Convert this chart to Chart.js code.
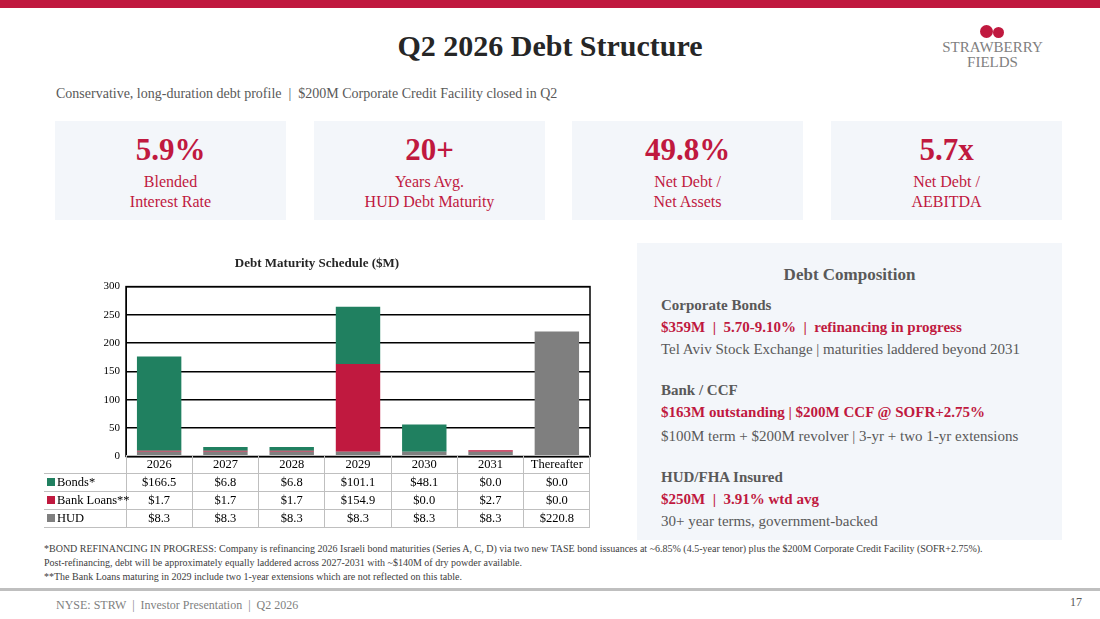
<!DOCTYPE html>
<html><head><meta charset="utf-8">
<script src="https://cdn.jsdelivr.net/npm/chart.js@4"></script>
<style>
body{margin:0;width:1100px;height:619px;position:relative;background:#fff;font-family:"Liberation Serif",serif;overflow:hidden}
.abs{position:absolute}
.kpi{position:absolute;top:121px;width:231px;height:99px;background:#f3f6fa;text-align:center}
.kpi .v{color:#c0193f;font-size:31px;font-weight:bold;margin-top:11px}
.kpi .l{color:#c0193f;font-size:16px;line-height:20px;margin-top:4px}
table{border-collapse:collapse;font-size:12.5px;color:#000;table-layout:fixed}
td{border:1px solid #bfbfbf;text-align:center;padding:0;height:17px;white-space:nowrap}
td.lab{text-align:left;padding-left:3px;border-left:none}
.sq{display:inline-block;width:8px;height:8px;margin-right:2px}
.dc{position:absolute;left:637px;top:243px;width:425px;height:297px;background:#f3f6fa}
.dc div{position:absolute;left:24px;white-space:nowrap}
.h{font-weight:bold;color:#595959;font-size:15px}
.r{font-weight:bold;color:#c0193f;font-size:15px}
.g{color:#595959;font-size:15px}
</style></head><body>
<div class="abs" style="left:0;top:0;width:1100px;height:8px;background:#c0193f"></div>
<div class="abs" style="left:0;width:1100px;top:29px;text-align:center;font-size:30px;font-weight:bold;color:#262626">Q2 2026 Debt Structure</div>
<div class="abs" style="left:980px;top:25px;width:13px;height:13px;border-radius:50%;background:#c0193f"></div>
<div class="abs" style="left:993px;top:27px;width:11px;height:11px;border-radius:50%;background:#c0193f"></div>
<div class="abs" style="left:930px;top:40px;color:#7f7f7f;font-size:15px;line-height:15px;text-align:center;width:125px">STRAWBERRY<br>FIELDS</div>
<div class="abs" style="left:56px;top:86px;font-size:14px;color:#595959">Conservative, long-duration debt profile &nbsp;| &nbsp;$200M Corporate Credit Facility closed in Q2</div>
<div class="kpi" style="left:55px"><div class="v">5.9%</div><div class="l">Blended<br>Interest Rate</div></div>
<div class="kpi" style="left:314px"><div class="v">20+</div><div class="l">Years Avg.<br>HUD Debt Maturity</div></div>
<div class="kpi" style="left:572px"><div class="v">49.8%</div><div class="l">Net Debt /<br>Net Assets</div></div>
<div class="kpi" style="left:831px"><div class="v">5.7x</div><div class="l">Net Debt /<br>AEBITDA</div></div>
<div class="abs" style="left:44px;top:253px;width:552px;height:216px"><canvas id="c"></canvas></div>
<div class="abs" style="left:44px;top:455px" id="tbl"></div>
<div class="dc">
<div class="h" style="left:0;width:425px;text-align:center;top:22px;font-size:17px">Debt Composition</div>
<div class="h" style="top:54px">Corporate Bonds</div>
<div class="r" style="top:76px">$359M &nbsp;| &nbsp;5.70-9.10% &nbsp;| &nbsp;refinancing in progress</div>
<div class="g" style="top:98px">Tel Aviv Stock Exchange | maturities laddered beyond 2031</div>
<div class="h" style="top:139px">Bank / CCF</div>
<div class="r" style="top:161px">$163M outstanding | $200M CCF @ SOFR+2.75%</div>
<div class="g" style="top:185px">$100M term + $200M revolver | 3-yr + two 1-yr extensions</div>
<div class="h" style="top:226px">HUD/FHA Insured</div>
<div class="r" style="top:248px">$250M &nbsp;| &nbsp;3.91% wtd avg</div>
<div class="g" style="top:270px">30+ year terms, government-backed</div>
</div>
<div class="abs" style="left:44px;top:542px;font-size:10px;color:#404040;line-height:14px;width:1020px">*BOND REFINANCING IN PROGRESS: Company is refinancing 2026 Israeli bond maturities (Series A, C, D) via two new TASE bond issuances at ~6.85% (4.5-year tenor) plus the $200M Corporate Credit Facility (SOFR+2.75%).<br>Post-refinancing, debt will be approximately equally laddered across 2027-2031 with ~$140M of dry powder available.<br>**The Bank Loans maturing in 2029 include two 1-year extensions which are not reflected on this table.</div>
<div class="abs" style="left:0;top:588px;width:1100px;height:3px;background:#bfbfbf"></div>
<div class="abs" style="left:56px;top:598px;font-size:12px;color:#7f7f7f">NYSE: STRW &nbsp;| &nbsp;Investor Presentation &nbsp;| &nbsp;Q2 2026</div>
<div class="abs" style="left:1040px;top:595px;font-size:12px;color:#595959;width:42px;text-align:right">17</div>
<script>
const categories=["2026","2027","2028","2029","2030","2031","Thereafter"];
const bonds=[166.5,6.8,6.8,101.1,48.1,0.0,0.0];
const bankLoans=[1.7,1.7,1.7,154.9,0.0,2.7,0.0];
const hud=[8.3,8.3,8.3,8.3,8.3,8.3,220.8];
const yTicks=[0,50,100,150,200,250,300];
const series=[["HUD",hud,"#7f7f7f"],["Bank Loans**",bankLoans,"#c0193f"],["Bonds*",bonds,"#208060"]];
new Chart(document.getElementById('c'),{type:'bar',
data:{labels:categories,datasets:series.map(s=>({label:s[0],data:s[1],backgroundColor:s[2],barPercentage:0.67,categoryPercentage:1}))},
options:{responsive:true,maintainAspectRatio:false,animation:false,
layout:{padding:{right:6,top:0,bottom:0}},
plugins:{legend:{display:false},tooltip:{enabled:false},
title:{display:true,text:'Debt Maturity Schedule ($M)',color:'#262626',font:{family:'Liberation Serif',size:13,weight:'bold'},padding:{top:3,bottom:15}}},
scales:{x:{stacked:true,display:false,grid:{display:false}},
y:{stacked:true,min:0,max:300,afterFit:a=>{a.width=82},afterBuildTicks:a=>{a.ticks=yTicks.map(v=>({value:v}))},
border:{color:'#000',width:1},grid:{color:'#000',lineWidth:1.5,drawTicks:false},
ticks:{color:'#000',font:{family:'Liberation Serif',size:11},padding:6}}}},
plugins:[{id:'box',afterDraw(c){const a=c.chartArea,x=c.ctx;x.save();x.strokeStyle='#000';x.lineWidth=1.5;x.strokeRect(a.left,a.top,a.right-a.left,a.bottom-a.top);x.restore();}}]
});
const colW=(590-126)/7;
let h='<table style="width:'+(590-44)+'px"><colgroup><col style="width:82px">'+categories.map(()=>`<col style="width:${colW}px">`).join('')+'</colgroup><tr><td style="border:none"></td>'+categories.map(c=>`<td>${c}</td>`).join('')+'</tr>';
[...series].reverse().forEach(s=>{h+=`<tr><td class="lab"><span class="sq" style="background:${s[2]}"></span>${s[0]}</td>`+s[1].map(v=>`<td>$${v.toFixed(1)}</td>`).join('')+'</tr>';});
document.getElementById('tbl').innerHTML=h+'</table>';
</script>
</body></html>
